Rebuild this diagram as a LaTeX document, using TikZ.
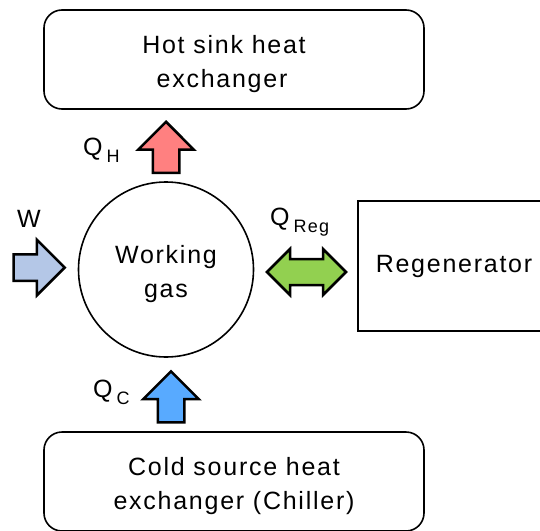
\documentclass[tikz,border=0pt]{standalone}
\usepackage{fontspec}
\setmainfont{Liberation Sans}[LetterSpace=7]
\usetikzlibrary{shapes.arrows}
\definecolor{hotred}{RGB}{255,128,128}
\definecolor{coldblue}{RGB}{88,170,255}
\definecolor{workblue}{RGB}{180,199,231}
\definecolor{reggreen}{RGB}{146,208,80}
\newcommand{\qsub}[2]{#1\hspace{4pt}\raisebox{-7pt}{\fontsize{18}{18}\selectfont #2}}
\newcommand{\tallstrut}{\rule{0pt}{26.5pt}}
\begin{document}
\begin{tikzpicture}[x=1pt,y=-1pt,font=\fontsize{25}{34}\selectfont,
  exch/.style={draw,line width=1.6pt,rounded corners=18pt,minimum width=380pt,minimum height=99pt,align=center,inner sep=0pt},
  fat/.style={single arrow,draw,line width=2.5pt,inner xsep=0pt,inner ysep=12pt,minimum height=51pt,single arrow head extend=14.5pt,anchor=tip},
  lbl/.style={anchor=base west,inner sep=0pt}]
\useasboundingbox (0,0) rectangle (540,530);
\clip (0,0) rectangle (540,530);
\node[exch](HX) at (234,59.5){\tallstrut Hot sink heat\hspace*{20pt}\\exchanger\hspace*{24pt}};
\node[exch](CX) at (234,481.5){\tallstrut Cold source heat\\exchanger (Chiller)};
\node[draw,circle,line width=1.6pt,minimum size=175pt,align=center,inner sep=0pt](WG) at (166,269.5){\tallstrut Working\\gas};
\node[draw,line width=1.6pt,minimum width=192pt,minimum height=130pt,inner sep=0pt](RG) at (454,266){Regenerator};
% heat and work arrows
\node[fat,fill=hotred,rotate=90](AH) at (166,120){};
\node[fat,fill=coldblue,rotate=90](AC) at (171,369.5){};
\node[fat,fill=workblue](AW) at (66.5,267.5){};
\node[double arrow,draw,fill=reggreen,line width=2.5pt,inner xsep=0pt,inner ysep=11.75pt,minimum height=79pt,double arrow head extend=10pt](AR) at (306.5,272){};
\node[lbl](QH) at (83,155){\qsub{Q}{H}};
\node[lbl](QC) at (93,397){\qsub{Q}{C}};
\node[lbl](W) at (17,227){W};
\node[lbl](QR) at (270,225){\qsub{Q}{Reg}};
\end{tikzpicture}
\end{document}
